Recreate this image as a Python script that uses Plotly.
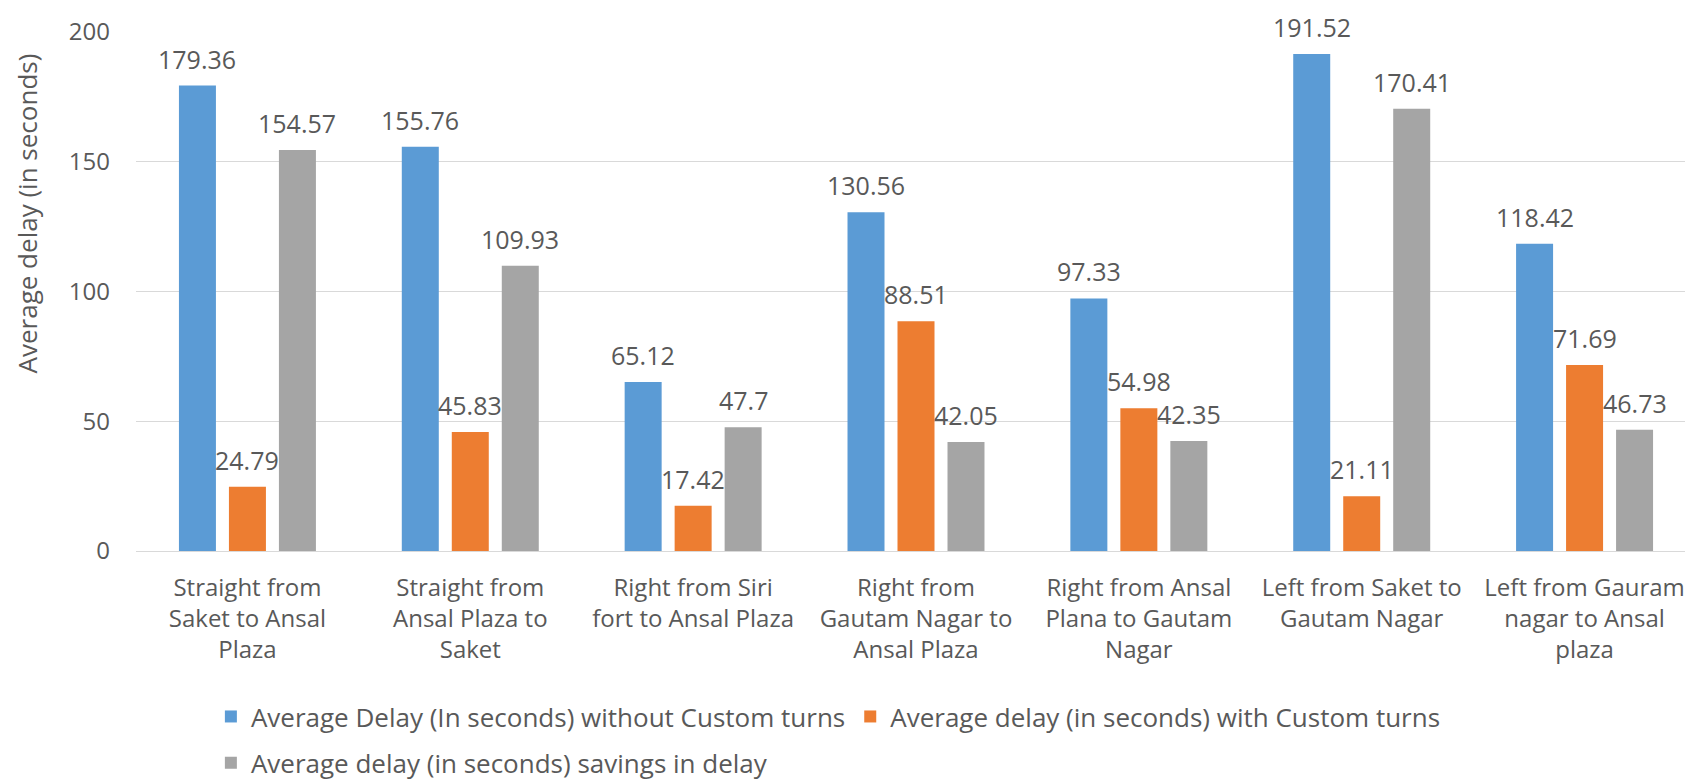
import plotly.graph_objects as go

categories = [
    "Straight from<br>Saket to Ansal<br>Plaza",
    "Straight from<br>Ansal Plaza to<br>Saket",
    "Right from Siri<br>fort to Ansal Plaza",
    "Right from<br>Gautam Nagar to<br>Ansal Plaza",
    "Right from Ansal<br>Plana to Gautam<br>Nagar",
    "Left from Saket to<br>Gautam Nagar",
    "Left from Gauram<br>nagar to Ansal<br>plaza",
]
without_custom = [179.36, 155.76, 65.12, 130.56, 97.33, 191.52, 118.42]
with_custom = [24.79, 45.83, 17.42, 88.51, 54.98, 21.11, 71.69]
savings = [154.57, 109.93, 47.7, 42.05, 42.35, 170.41, 46.73]
y_ticks = [0, 50, 100, 150, 200]

series = [
    ("Average Delay (In seconds) without Custom turns", without_custom, "#5B9BD5", "legend"),
    ("Average delay (in seconds) with Custom turns", with_custom, "#ED7D31", "legend"),
    ("Average delay (in seconds) savings in delay", savings, "#A5A5A5", "legend2"),
]

FONT = "Open Sans"
TXT = "#595959"

fig = go.Figure()
bargap = 0.327
bargroupgap = 0.26
slot = (1 - bargap) / len(series)
annotations = []
for j, (name, vals, color, lg) in enumerate(series):
    fig.add_trace(go.Bar(name=name, x=list(range(len(categories))), y=vals,
                         marker_color=color, marker_line_width=0, legend=lg))
    off = -(1 - bargap) / 2 + slot * (j + 0.5)
    for i, v in enumerate(vals):
        annotations.append(dict(x=i + off, y=v, xref="x", yref="y", text=f"{v:g}",
                                showarrow=False, yshift=27, yanchor="middle",
                                font=dict(family=FONT, size=25, color=TXT)))

annotations.append(dict(x=-0.07, y=0.65, xref="paper", yref="paper",
                        text="Average delay (in seconds)", textangle=-90,
                        showarrow=False, xanchor="center", yanchor="middle",
                        font=dict(family=FONT, size=26, color=TXT)))

legend_common = dict(orientation="h", xanchor="left", yanchor="middle",
                     font=dict(family=FONT, size=26, color=TXT), traceorder="normal",
                     itemwidth=30, bgcolor="rgba(0,0,0,0)")

fig.update_layout(
    width=1693, height=783,
    margin=dict(l=128, r=5, t=24, b=235),
    paper_bgcolor="white", plot_bgcolor="white",
    barmode="group", bargap=bargap, bargroupgap=bargroupgap,
    font=dict(family=FONT, size=24, color=TXT),
    annotations=annotations,
    showlegend=True,
    legend=dict(x=0.048, y=-0.319, **legend_common),
    legend2=dict(x=0.048, y=-0.408, **legend_common),
)
fig.update_xaxes(tickmode="array", tickvals=list(range(len(categories))), ticktext=categories,
                 range=[-0.5, len(categories) - 0.5],
                 showline=True, linecolor="#D9D9D9", linewidth=1, ticks="",
                 ticklabelstandoff=15,
                 showgrid=False, tickfont=dict(family=FONT, size=24, color=TXT))
fig.update_yaxes(range=[0, 200], tickvals=y_ticks, showgrid=True,
                 gridcolor="#D9D9D9", gridwidth=1, zeroline=False, showline=False,
                 ticks="", ticklabelstandoff=25,
                 tickfont=dict(family=FONT, size=24, color=TXT))

fig.write_html("out.html")
